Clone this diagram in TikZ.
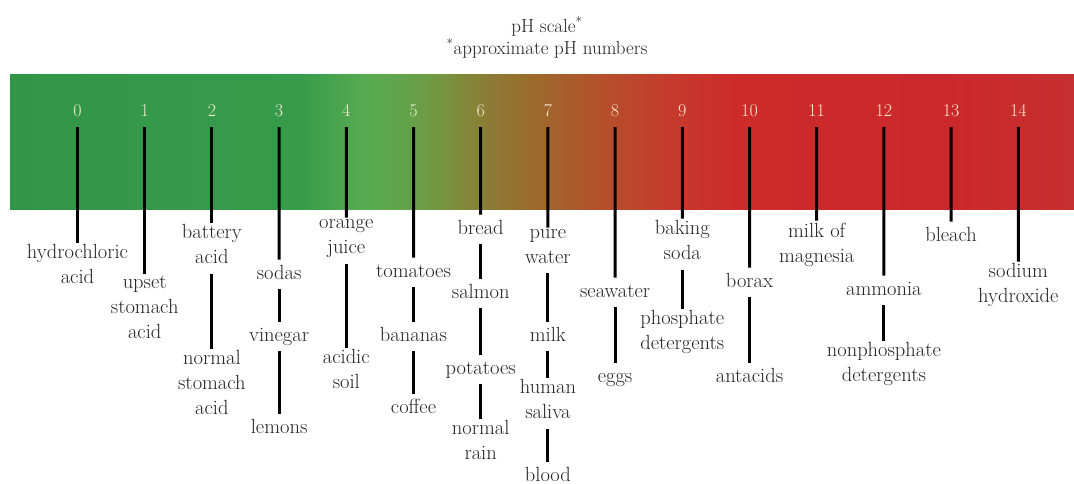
\documentclass[tikz,border=0pt]{standalone}
\definecolor{txtcol}{RGB}{35,35,35}
\definecolor{numcol}{RGB}{248,236,210}
\definecolor{ca}{RGB}{50,150,72}
\definecolor{cb}{RGB}{54,156,73}
\definecolor{cc}{RGB}{88,171,82}
\definecolor{cd}{RGB}{100,162,74}
\definecolor{ce}{RGB}{122,145,60}
\definecolor{cf}{RGB}{140,123,52}
\definecolor{cg}{RGB}{158,104,44}
\definecolor{ch}{RGB}{180,80,44}
\definecolor{ci}{RGB}{198,58,45}
\definecolor{cj}{RGB}{205,42,42}
\definecolor{ck}{RGB}{203,40,43}
\definecolor{cl}{RGB}{198,48,48}
\begin{document}
\begin{tikzpicture}[x=1pt,y=-1pt,
  num/.style={text=numcol,font=\fontsize{18}{20}\selectfont,inner sep=0pt,
    minimum height=34pt,text height=13pt,text depth=0pt},
  lab/.style={text=txtcol,font=\fontsize{20.5}{25}\selectfont,align=center,
    inner sep=2pt,anchor=north,execute at begin node=\strut,execute at end node=\strut},
  ttl/.style={text=txtcol,font=\fontsize{19}{23}\selectfont,anchor=base},
  tick/.style={line width=3pt,black}]
\useasboundingbox (0,0) rectangle (1074,484);
\fill[white] (0,0) rectangle (1074,484);
% gradient bar
\shade[left color=ca,right color=cb] (10,75) rectangle (300.5,209);
\shade[left color=cb,right color=cc] (300,75) rectangle (365.5,209);
\shade[left color=cc,right color=cd] (365,75) rectangle (410.5,209);
\shade[left color=cd,right color=ce] (410,75) rectangle (450.5,209);
\shade[left color=ce,right color=cf] (450,75) rectangle (490.5,209);
\shade[left color=cf,right color=cg] (490,75) rectangle (540.5,209);
\shade[left color=cg,right color=ch] (540,75) rectangle (600.5,209);
\shade[left color=ch,right color=ci] (600,75) rectangle (670.5,209);
\shade[left color=ci,right color=cj] (670,75) rectangle (740.5,209);
\shade[left color=cj,right color=ck] (740,75) rectangle (950.5,209);
\shade[left color=ck,right color=cl] (950,75) rectangle (1074,209);
% title
\node[ttl] (t1) at (547,33) {pH scale\textsuperscript{*}};
\node[ttl] (t2) at (547,55) {\textsuperscript{*}approximate pH numbers};
% numbers
\foreach \i in {0,...,14} {
  \node[num] (n\i) at ({77.5+67.2*\i},110) {\i};
}
% labels
\node[lab] (l0a) at (77.5,242.5) {hydrochloric\\acid};
\node[lab] (l1a) at (144.7,273.5) {upset\\stomach\\acid};
\node[lab] (l2a) at (211.9,222.5) {battery\\acid};
\node[lab] (l2b) at (211.9,348.5) {normal\\stomach\\acid};
\node[lab] (l3a) at (279.1,259.5) {sodas};
\node[lab] (l3b) at (279.1,321.5) {vinegar};
\node[lab] (l3c) at (279.1,413.5) {lemons};
\node[lab] (l4a) at (346.3,217.5) {orange\\juice};
\node[lab] (l4b) at (346.3,347.5) {acidic\\soil};
\node[lab] (l5a) at (413.5,257.5) {tomatoes};
\node[lab] (l5b) at (413.5,321.5) {bananas};
\node[lab] (l5c) at (413.5,393.5) {coffee};
\node[lab] (l6a) at (480.7,214.5) {bread};
\node[lab] (l6b) at (480.7,278.5) {salmon};
\node[lab] (l6c) at (480.7,354.5) {potatoes};
\node[lab] (l6d) at (480.7,418.5) {normal\\rain};
\node[lab] (l7a) at (547.9,227.5) {pure\\water};
\node[lab] (l7b) at (547.9,321.5) {milk};
\node[lab] (l7c) at (547.9,377.5) {human\\saliva};
\node[lab] (l7d) at (547.9,461.5) {blood};
\node[lab] (l8a) at (615.1,277.5) {seawater};
\node[lab] (l8b) at (615.1,362.5) {eggs};
\node[lab] (l9a) at (682.3,218.5) {baking\\soda};
\node[lab] (l9b) at (682.3,308.5) {phosphate\\detergents};
\node[lab] (l10a) at (749.5,267.5) {borax};
\node[lab] (l10b) at (749.5,362.5) {antacids};
\node[lab] (l11a) at (816.7,220.5) {milk of\\magnesia};
\node[lab] (l12a) at (883.9,275.5) {ammonia};
\node[lab] (l12b) at (883.9,340.5) {nonphosphate\\detergents};
\node[lab] (l13a) at (951.1,221.5) {bleach};
\node[lab] (l14a) at (1018.3,261.5) {sodium\\hydroxide};
% connectors
\draw[tick] (n0) -- (l0a);
\draw[tick] (n1) -- (l1a);
\draw[tick] (n2) -- (l2a);
\draw[tick] (l2a) -- (l2b);
\draw[tick] (n3) -- (l3a);
\draw[tick] (l3a) -- (l3b);
\draw[tick] (l3b) -- (l3c);
\draw[tick] (n4) -- (l4a);
\draw[tick] (l4a) -- (l4b);
\draw[tick] (n5) -- (l5a);
\draw[tick] (l5a) -- (l5b);
\draw[tick] (l5b) -- (l5c);
\draw[tick] (n6) -- (l6a);
\draw[tick] (l6a) -- (l6b);
\draw[tick] (l6b) -- (l6c);
\draw[tick] (l6c) -- (l6d);
\draw[tick] (n7) -- (l7a);
\draw[tick] (l7a) -- (l7b);
\draw[tick] (l7b) -- (l7c);
\draw[tick] (l7c) -- (l7d);
\draw[tick] (n8) -- (l8a);
\draw[tick] (l8a) -- (l8b);
\draw[tick] (n9) -- (l9a);
\draw[tick] (l9a) -- (l9b);
\draw[tick] (n10) -- (l10a);
\draw[tick] (l10a) -- (l10b);
\draw[tick] (n11) -- (l11a);
\draw[tick] (n12) -- (l12a);
\draw[tick] (l12a) -- (l12b);
\draw[tick] (n13) -- (l13a);
\draw[tick] (n14) -- (l14a);
\end{tikzpicture}
\end{document}
